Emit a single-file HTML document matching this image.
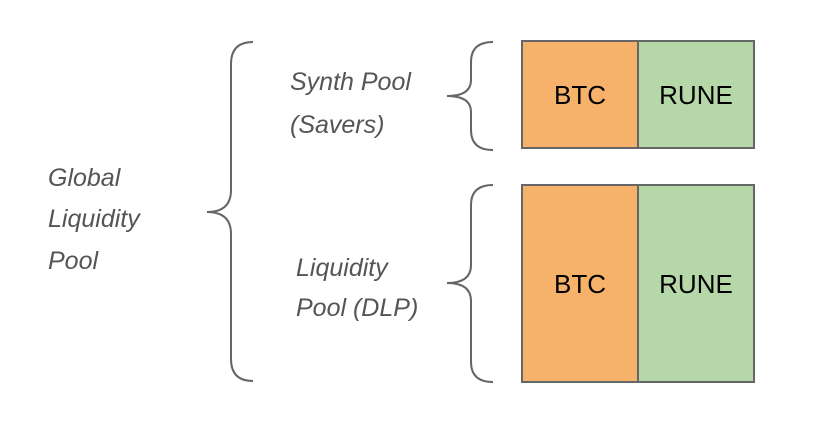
<!DOCTYPE html>
<html><head><style>body{margin:0;background:#fff}</style></head><body>
<svg width="818" height="438" xmlns="http://www.w3.org/2000/svg">
<rect width="818" height="438" fill="#fff"/>
<g fill="none" stroke="#666" stroke-width="2">
<path d="M253,42 Q231,42 231,64 L231,190 Q231,212 207,212 Q231,212 231,234 L231,359 Q231,381 253,381"/>
<path d="M493,42 Q471,42 471,62 L471,80 Q471,96 447,96 Q471,96 471,112 L471,130 Q471,150 493,150"/>
<path d="M493,185 Q471,185 471,205 L471,265 Q471,283 447,283 Q471,283 471,301 L471,362 Q471,382 493,382"/>
</g>
<g stroke="#666" stroke-width="2">
<rect x="522" y="41" width="116" height="107" fill="#f6b26b"/>
<rect x="638" y="41" width="116" height="107" fill="#b6d7a8"/>
<rect x="522" y="185" width="116" height="197" fill="#f6b26b"/>
<rect x="638" y="185" width="116" height="197" fill="#b6d7a8"/>
</g>
<g font-family="Liberation Sans, sans-serif" font-size="26" fill="#000" text-anchor="middle">
<text x="580" y="104">BTC</text><text x="696" y="104">RUNE</text>
<text x="580" y="293">BTC</text><text x="696" y="293">RUNE</text>
</g>
<g font-family="Liberation Sans, sans-serif" font-style="italic" font-size="25" fill="#555">
<text x="290" y="90">Synth Pool</text><text x="290" y="133">(Savers)</text>
<text x="296" y="276">Liquidity</text><text x="296" y="316">Pool (DLP)</text>
<text x="48" y="186">Global</text><text x="48" y="227">Liquidity</text><text x="48" y="269">Pool</text>
</g>
</svg>
</body></html>
